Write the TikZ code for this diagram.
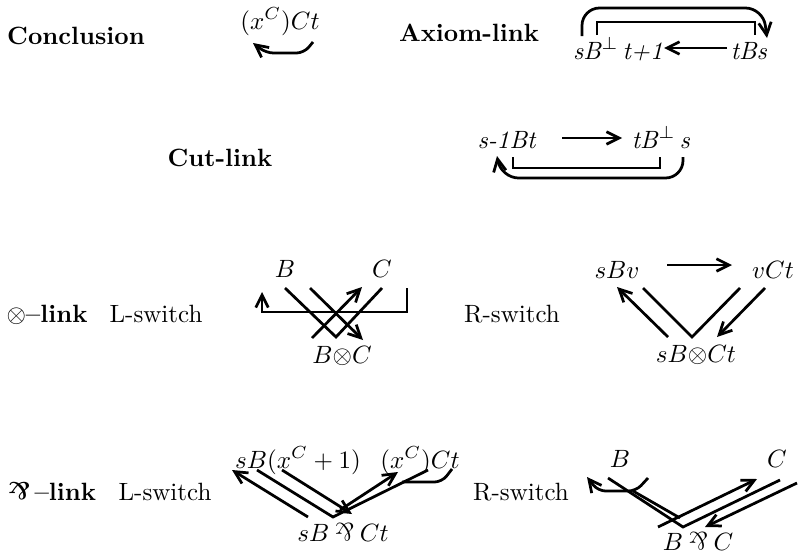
\documentclass[tikz,border=0pt]{standalone}
\usepackage{graphicx}
\usetikzlibrary{arrows.meta}
\newcommand{\myparr}{\mathbin{\rotatebox[origin=c]{180}{\&}}}
\tikzset{
  lbl/.style={font=\bfseries, inner sep=0pt, anchor=base},
  txt/.style={inner sep=0pt, anchor=base},
  ln/.style={line width=1.1pt, line join=miter},
  arr/.style={ln, -{Straight Barb[length=5pt,width=5pt,line width=1.1pt]}},
}
\begin{document}
\begin{tikzpicture}[x=0.4pt,y=-0.4pt]
\useasboundingbox (0,0) rectangle (798,554);
% ---- Conclusion
\node[lbl] (concl) at (76,44) {Conclusion};
\node[txt] (xcct) at (280,29) {$(x^C)Ct$};
\coordinate (co1) at (313,42);
\coordinate (co2) at (304,53);
\coordinate (co3) at (266,53);
\coordinate (co4) at (253,43);
\draw[arr, rounded corners=3pt] (co1) -- (co2) -- (co3) -- (co4);
% ---- Axiom-link
\node[lbl] (axlab) at (469,41) {Axiom-link};
\node[txt] (sbp) at (618,59) {\textit{sB}$^{\perp}$\,\textit{t+1}};
\node[txt] (tbs) at (749,59) {\textit{tBs}};
\coordinate (ax1) at (727,48);
\coordinate (ax2) at (664,48);
\draw[arr] (ax1) -- (ax2);
\coordinate (ai1) at (597,35);
\coordinate (ai2) at (597,22);
\coordinate (ai3) at (755,22);
\coordinate (ai4) at (755,35);
\draw[ln] (ai1) -- (ai2) -- (ai3) -- (ai4);
\coordinate (ao1) at (582,36);
\coordinate (ao2) at (582,8);
\coordinate (ao3) at (763,8);
\coordinate (ao4) at (767,38);
\draw[arr, rounded corners=7pt] (ao1) -- (ao2) -- (ao3) -- (ao4);
% ---- Cut-link
\node[lbl] (cutlab) at (220,166) {Cut-link};
\node[txt] (s1bt) at (507,148) {\textit{s-1Bt}};
\node[txt] (tbps) at (661,148) {\textit{tB}$^{\perp}$\,\textit{s}};
\coordinate (cu1) at (562,138);
\coordinate (cu2) at (622,138);
\draw[arr] (cu1) -- (cu2);
\coordinate (ci1) at (513,157);
\coordinate (ci2) at (513,168);
\coordinate (ci3) at (660,168);
\coordinate (ci4) at (660,157);
\draw[ln] (ci1) -- (ci2) -- (ci3) -- (ci4);
\coordinate (cp1) at (683,157);
\coordinate (cp2) at (683,178);
\coordinate (cp3) at (501,178);
\coordinate (cp4) at (497,156);
\draw[arr, rounded corners=7pt] (cp1) -- (cp2) -- (cp3) -- (cp4);
% ---- tensor link
\node[lbl] (tenslab) at (47,322) {$\otimes$--link};
\node[txt] (tlsw) at (156,322) {L-switch};
\node[txt] (tB) at (285,277) {$B$};
\node[txt] (tC) at (382,277) {$C$};
\node[txt] (tBC) at (342,363) {$B{\otimes}C$};
\coordinate (tb1) at (407,288);
\coordinate (tb2) at (407,312);
\coordinate (tb3) at (262,312);
\coordinate (tb4) at (262,292);
\draw[arr] (tb1) -- (tb2) -- (tb3) -- (tb4);
\coordinate (tv1) at (285,288);
\coordinate (tv2) at (336,337);
\coordinate (tv3) at (382,288);
\draw[ln] (tv1) -- (tv2) -- (tv3);
\coordinate (ta1) at (310,288);
\coordinate (ta2) at (363,340);
\draw[arr] (ta1) -- (ta2);
\coordinate (ta3) at (312,338);
\coordinate (ta4) at (362,287);
\draw[arr] (ta3) -- (ta4);
% R-switch
\node[txt] (trsw) at (512,322) {R-switch};
\node[txt] (sbv) at (617,278) {$sBv$};
\node[txt] (vct) at (773,278) {$vCt$};
\node[txt] (sbct) at (696,362) {$sB{\otimes}Ct$};
\coordinate (tr1) at (667,265);
\coordinate (tr2) at (732,265);
\draw[arr] (tr1) -- (tr2);
\coordinate (tr3) at (668,337);
\coordinate (tr4) at (617,287);
\draw[arr] (tr3) -- (tr4);
\coordinate (tr5) at (643,288);
\coordinate (tr6) at (692,337);
\coordinate (tr7) at (740,288);
\draw[ln] (tr5) -- (tr6) -- (tr7);
\coordinate (tr8) at (765,288);
\coordinate (tr9) at (717,337);
\draw[arr] (tr8) -- (tr9);
% ---- par link
\node[lbl] (parlab) at (52,500) {$\myparr$\,--link};
\node[txt] (plsw) at (165,500) {L-switch};
\node[txt] (psbx) at (298,468) {$sB(x^C+1)$};
\node[txt] (pxct) at (420,468) {$(x^C)Ct$};
\node[txt] (psbct) at (343,541) {$sB \myparr Ct$};
\coordinate (pl1) at (308,517);
\coordinate (pl2) at (232,470);
\draw[arr] (pl1) -- (pl2);
\coordinate (pl3) at (257,470);
\coordinate (pl4) at (333,517);
\coordinate (pl5) at (428,470);
\draw[ln] (pl3) -- (pl4) -- (pl5);
\coordinate (pl6) at (282,470);
\coordinate (pl7) at (352,514);
\draw[arr] (pl6) -- (pl7);
\coordinate (pl8) at (340,510);
\coordinate (pl9) at (398,472);
\draw[arr] (pl8) -- (pl9);
\coordinate (ph1) at (402,482);
\coordinate (ph2) at (442,482);
\coordinate (ph3) at (452,469);
\draw[ln, rounded corners=3pt] (ph1) -- (ph2) -- (ph3);
% R-switch
\node[txt] (prsw) at (521,500) {R-switch};
\node[txt] (pB) at (620,467) {$B$};
\node[txt] (pC) at (777,467) {$C$};
\node[txt] (pBC) at (698,550) {$B \myparr C$};
\coordinate (pr1) at (648,478);
\coordinate (pr2) at (636,491);
\coordinate (pr3) at (598,491);
\coordinate (pr4) at (587,477);
\draw[arr, rounded corners=3pt] (pr1) -- (pr2) -- (pr3) -- (pr4);
\coordinate (pr5) at (633,491);
\coordinate (pr6) at (680,518);
\draw[ln] (pr5) -- (pr6);
\coordinate (pr7) at (608,478);
\coordinate (pr8) at (683,527);
\coordinate (pr9) at (780,480);
\draw[ln] (pr7) -- (pr8) -- (pr9);
\coordinate (pa1) at (658,527);
\coordinate (pa2) at (757,479);
\draw[arr] (pa1) -- (pa2);
\coordinate (pa3) at (797,483);
\coordinate (pa4) at (705,527);
\draw[arr] (pa3) -- (pa4);
\end{tikzpicture}
\end{document}
